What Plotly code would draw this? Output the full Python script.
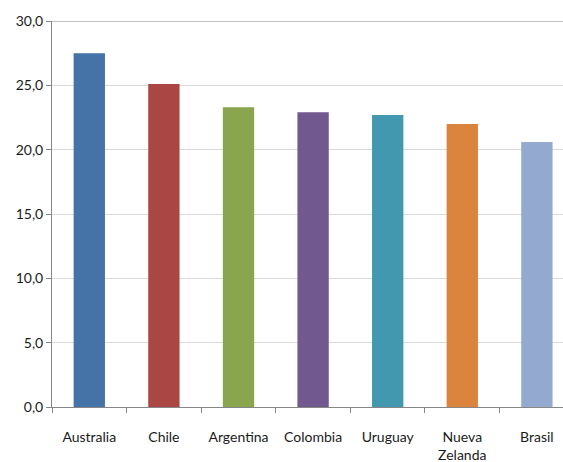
import plotly.graph_objects as go

categories = ["Australia", "Chile", "Argentina", "Colombia", "Uruguay", "Nueva<br>Zelanda", "Brasil"]
values = [27.5, 25.1, 23.3, 22.9, 22.7, 22.0, 20.6]
colors = ["#4572A7", "#AA4643", "#89A54E", "#71588F", "#4198AF", "#DB843D", "#93A9CF"]
y_ticks = [0, 5, 10, 15, 20, 25, 30]

fig = go.Figure(go.Bar(x=categories, y=values, marker=dict(color=colors, line=dict(width=0)), width=0.42))

axis_col = "#868686"
fig.update_layout(
    width=563, height=462,
    margin=dict(l=52, r=0, t=21, b=55),
    paper_bgcolor="white", plot_bgcolor="white",
    font=dict(family="Lato, Open Sans, sans-serif", size=14, color="#1a1a1a"),
    separators=",.",
    showlegend=False,
    bargap=0.58,
    xaxis=dict(
        type="category", range=[-0.5, 6.35],
        showline=True, linecolor=axis_col, linewidth=1,
        ticks="outside", tickson="boundaries", ticklen=5, tickcolor=axis_col,
        showgrid=False, ticklabelstandoff=17,
    ),
    yaxis=dict(
        range=[0, 30], tickvals=y_ticks, tickformat=".1f",
        showline=True, linecolor=axis_col, linewidth=1,
        ticks="outside", ticklen=5, tickcolor=axis_col,
        showgrid=True, gridcolor="#d9d9d9", gridwidth=1,
        zeroline=False,
    ),
    shapes=[dict(type="line", xref="paper", yref="y", x0=0, x1=1, y0=30, y1=30,
                 line=dict(color=axis_col, width=1))],
)

fig.write_html("out.html")
